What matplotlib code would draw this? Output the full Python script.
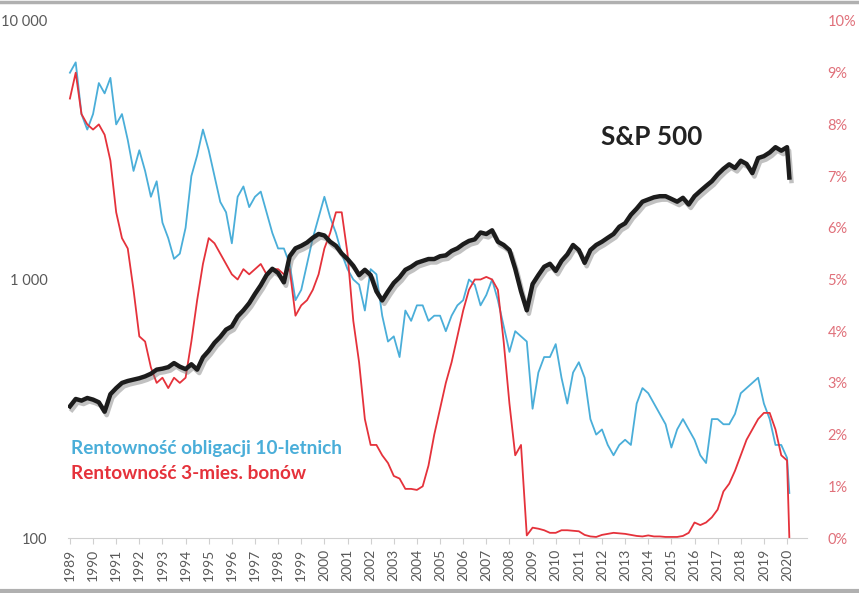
import numpy as np
import matplotlib

matplotlib.use("Agg")
import matplotlib.pyplot as plt
import matplotlib.patheffects as pe
from matplotlib.ticker import FixedLocator, NullLocator

plt.rcParams["font.family"] = ["Lato", "DejaVu Sans"]

# quarterly readings, last point is the March 2020 crash
dates = np.append(np.arange(1989.0, 2020.01, 0.25), 2020.1)

sp500 = [
    323, 345, 340, 348, 343, 335, 308, 360, 380, 398, 405, 410,
    415, 422, 432, 448, 452, 458, 475, 460, 450, 470, 448, 500,
    530, 569, 600, 640, 659, 720, 760, 810, 880, 950, 1040, 1100,
    1060, 975, 1230, 1320, 1350, 1390, 1450, 1500, 1480, 1400, 1350, 1260,
    1200, 1130, 1040, 1090, 1040, 900, 830, 900, 970, 1020, 1090, 1120,
    1160, 1180, 1200, 1200, 1230, 1240, 1290, 1320, 1370, 1410, 1430, 1520,
    1500, 1550, 1400, 1360, 1300, 1100, 900, 760, 960, 1040, 1120, 1150,
    1080, 1180, 1250, 1360, 1300, 1160, 1300, 1360, 1400, 1450, 1500, 1600,
    1650, 1780, 1880, 2000, 2040, 2080, 2100, 2100, 2050, 2000, 2070, 1950,
    2100, 2200, 2300, 2400, 2550, 2680, 2790, 2700, 2880, 2800, 2580, 2950,
    3000, 3100, 3250, 3150, 3250, 2480,
]

yield_10y = [
    9.0, 9.2, 8.2, 7.9, 8.2, 8.8, 8.6, 8.9, 8.0, 8.2, 7.7, 7.1,
    7.5, 7.1, 6.6, 6.9, 6.1, 5.8, 5.4, 5.5, 6.0, 7.0, 7.4, 7.9,
    7.5, 7.0, 6.5, 6.3, 5.7, 6.6, 6.8, 6.4, 6.6, 6.7, 6.3, 5.9,
    5.6, 5.6, 5.3, 4.6, 4.8, 5.3, 5.8, 6.2, 6.6, 6.2, 5.9, 5.5,
    5.2, 5.0, 4.9, 4.4, 5.2, 5.1, 4.3, 3.8, 3.9, 3.5, 4.4, 4.2,
    4.5, 4.5, 4.2, 4.3, 4.3, 4.0, 4.3, 4.5, 4.6, 5.0, 4.9, 4.5,
    4.7, 5.0, 4.6, 4.1, 3.6, 4.0, 3.9, 3.8, 2.5, 3.2, 3.5, 3.5,
    3.75, 3.1, 2.6, 3.2, 3.4, 3.1, 2.3, 2.0, 2.1, 1.8, 1.6, 1.8,
    1.9, 1.8, 2.6, 2.9, 2.8, 2.6, 2.4, 2.2, 1.75, 2.1, 2.3, 2.1,
    1.9, 1.6, 1.45, 2.3, 2.3, 2.2, 2.2, 2.4, 2.8, 2.9, 3.0, 3.1,
    2.6, 2.3, 1.8, 1.8, 1.55, 0.87,
]

yield_3m = [
    8.5, 9.0, 8.2, 8.0, 7.9, 8.0, 7.8, 7.3, 6.3, 5.8, 5.6, 4.8,
    3.9, 3.8, 3.3, 3.0, 3.1, 2.9, 3.1, 3.0, 3.1, 3.8, 4.6, 5.3,
    5.8, 5.7, 5.5, 5.3, 5.1, 5.0, 5.2, 5.1, 5.2, 5.3, 5.1, 5.2,
    5.2, 5.1, 5.2, 4.3, 4.5, 4.6, 4.8, 5.1, 5.6, 5.9, 6.3, 6.3,
    5.5, 4.2, 3.4, 2.3, 1.8, 1.8, 1.6, 1.45, 1.2, 1.15, 0.95, 0.95,
    0.93, 1.0, 1.4, 2.0, 2.5, 3.0, 3.4, 3.9, 4.4, 4.8, 5.0, 5.0,
    5.05, 5.0, 4.8, 3.8, 2.6, 1.6, 1.8, 0.05, 0.2, 0.18, 0.15, 0.1,
    0.1, 0.15, 0.15, 0.14, 0.13, 0.06, 0.03, 0.02, 0.06, 0.08, 0.1, 0.09,
    0.08, 0.06, 0.04, 0.03, 0.05, 0.03, 0.03, 0.02, 0.02, 0.02, 0.04, 0.1,
    0.3, 0.25, 0.3, 0.4, 0.55, 0.9, 1.05, 1.3, 1.6, 1.9, 2.1, 2.3,
    2.42, 2.42, 2.1, 1.6, 1.5, 0.0,
]

year_ticks = list(range(1989, 2021))

BLUE = "#4aaed9"
RED = "#e5323b"
GREY_TXT = "#595959"

fig = plt.figure(figsize=(8.59, 5.93), dpi=100)
ax = fig.add_axes([68.3 / 859, 1 - 538 / 593, 738.4 / 859, 517 / 593])
ax2 = ax.twinx()

# yields on the right axis
ax2.plot(dates, yield_10y, color=BLUE, linewidth=1.3, zorder=2)
ax2.plot(dates, yield_3m, color=RED, linewidth=1.3, zorder=3)
ax2.set_ylim(0, 10)
ax2.yaxis.set_major_locator(FixedLocator(range(0, 11)))
ax2.set_yticklabels([f"{v}%" for v in range(0, 11)])
ax2.tick_params(axis="y", length=0, pad=15, labelsize=10.5, labelcolor="#e0707a")

# S&P 500 on the left log axis, drawn above the yields
ax.set_zorder(ax2.get_zorder() + 1)
ax.patch.set_visible(False)
ax.plot(dates, sp500, color="#1c1c1c", linewidth=3.2, solid_joinstyle="round",
        path_effects=[pe.SimpleLineShadow(offset=(1.5, -2.5), shadow_color="#777777", alpha=0.45),
                      pe.Normal()])
ax.set_yscale("log")
ax.set_ylim(100, 10000)
ax.yaxis.set_major_locator(FixedLocator([100, 1000, 10000]))
ax.yaxis.set_minor_locator(NullLocator())
ax.set_yticklabels(["100", "1 000", "10 000"])
ax.tick_params(axis="y", length=0, pad=15, labelsize=10.5, labelcolor=GREY_TXT)

ax.set_xlim(1988.93, 2020.85)
ax.set_xticks(year_ticks)
ax.set_xticklabels([str(y) for y in year_ticks], rotation=90)
ax.tick_params(axis="x", length=4, width=0.8, color="#d0d0d0", pad=4,
               labelsize=10, labelcolor=GREY_TXT)

for a in (ax, ax2):
    for side in ("top", "left", "right"):
        a.spines[side].set_visible(False)
    a.spines["bottom"].set_color("#d0d0d0")
ax2.spines["bottom"].set_visible(False)

ax.text(0.79, 0.776, "S&P 500", transform=ax.transAxes, ha="center", va="center",
        fontsize=18.8, fontweight="bold", color="#222222")
ax.text(0.003, 0.1735, "Rentowność obligacji 10-letnich", transform=ax.transAxes,
        ha="left", va="center", fontsize=13.7, fontweight="bold", color=BLUE)
ax.text(0.003, 0.124, "Rentowność 3-mies. bonów", transform=ax.transAxes,
        ha="left", va="center", fontsize=13.7, fontweight="bold", color=RED)

# frame lines of the screenshot
fig.add_artist(plt.Line2D([0, 1], [0.997, 0.997], color="#b0b0b0", linewidth=2.5))
fig.add_artist(plt.Line2D([0, 1], [0.003, 0.003], color="#b0b0b0", linewidth=3))

fig.savefig("out.png", dpi=100)
